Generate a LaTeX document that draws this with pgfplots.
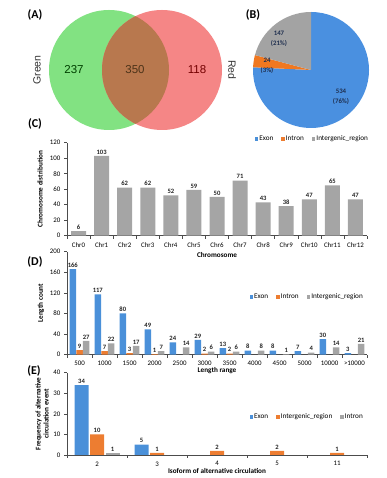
\documentclass[border=0pt]{standalone}
\usepackage{fontspec}
\setmainfont{Carlito}
\newfontfamily\arialfont{Liberation Sans}
\usepackage{pgfplots}
\pgfplotsset{compat=1.18}
\definecolor{exon}{HTML}{4A90D9}
\definecolor{intron}{HTML}{ED7D31}
\definecolor{inter}{HTML}{A5A5A5}
\definecolor{vgreen}{HTML}{82E282}
\definecolor{vred}{HTML}{F58686}
\definecolor{vover}{HTML}{B8784E}
\definecolor{pieblue}{HTML}{4A90E0}
\definecolor{pieorange}{HTML}{F07820}
\definecolor{piegray}{HTML}{A3A3A3}
\definecolor{pielab}{HTML}{1F2F4F}
\pgfplotsset{
  sqlegend/.style={legend image code/.code={\fill[##1] (0pt,-1.8pt) rectangle (3.6pt,1.8pt);}},
  ybar legend/.style={legend image code/.code={\fill[##1] (0pt,-1.8pt) rectangle (3.6pt,1.8pt);}},
  excel/.style={
    /pgf/number format/assume math mode=true,
    scale only axis, width=300pt,
    axis lines*=left,
    axis line style={-, black!70, line width=0.6pt},
    tick align=outside,
    major tick length=3pt, minor tick length=3pt,
    tick style={black!70, line width=0.5pt},
    every major x tick/.append style={draw=none},
    ymin=0,
    tick label style={font=\fontsize{6.9}{7}\selectfont},
    label style={font=\bfseries\fontsize{7.2}{8}\selectfont},
    ylabel style={anchor=center},
    xlabel style={anchor=center},
    nodes near coords style={font=\bfseries\fontsize{6.6}{7}\selectfont, inner sep=1.5pt, text=black!85},
    legend style={draw=none, fill=none, font=\fontsize{7.2}{8}\selectfont,
      legend columns=3, /tikz/every even column/.append style={column sep=7pt},
      nodes={inner sep=1pt}},
    sqlegend,
  }
}
\begin{document}
\begin{tikzpicture}
\path[use as bounding box] (0,0) rectangle (387pt,478pt);
% ---------- (A) Venn ----------
\fill[vgreen] (109pt,408pt) circle (60pt);
\fill[vred] (162pt,408pt) circle (60pt);
\begin{scope}
\clip (109pt,408pt) circle (60pt);
\fill[vover] (162pt,408pt) circle (60pt);
\end{scope}
\node[font=\arialfont\fontsize{11.5}{12}\selectfont, text=green!25!black] at (74pt,408pt) {237};
\node[font=\arialfont\fontsize{11.5}{12}\selectfont, text=brown!40!black] at (135pt,408pt) {350};
\node[font=\arialfont\fontsize{11.5}{12}\selectfont, text=red!45!black] at (197pt,408pt) {118};
\node[font=\arialfont\fontsize{10.5}{12}\selectfont, text=black!80, rotate=90] at (37pt,408pt) {Green};
\node[font=\arialfont\fontsize{10.5}{12}\selectfont, text=black!80, rotate=-90] at (232pt,408pt) {Red};
% ---------- (B) Pie ----------
\pgfmathsetmacro\tot{534+24+147}
\pgfmathsetmacro\aA{90-534/\tot*360}
\pgfmathsetmacro\aB{\aA-24/\tot*360}
\fill[pieblue] (311pt,408pt) -- ++(90:58pt) arc[start angle=90, end angle=\aA, radius=58pt] -- cycle;
\fill[pieorange] (311pt,408pt) -- ++(\aA:58pt) arc[start angle=\aA, end angle=\aB, radius=58pt] -- cycle;
\fill[piegray] (311pt,408pt) -- ++(\aB:58pt) arc[start angle=\aB, end angle=-270, radius=58pt] -- cycle;
\node[font=\bfseries\fontsize{6.8}{10.5}\selectfont, text=pielab, align=center] at (279pt,439pt) {147\\(21\%)};
\node[font=\bfseries\fontsize{6.8}{10.5}\selectfont, text=pielab, align=center] at (267pt,412pt) {24\\(3\%)};
\node[font=\bfseries\fontsize{6.8}{10.5}\selectfont, text=pielab, align=center] at (341pt,381pt) {534\\(76\%)};
% ---------- panel letters ----------
\node[font=\bfseries\fontsize{12}{14}\selectfont] at (35pt,463pt) {(A)};
\node[font=\bfseries\fontsize{12}{14}\selectfont] at (253pt,463pt) {(B)};
\node[font=\bfseries\fontsize{12}{14}\selectfont] at (35pt,354pt) {(C)};
\node[font=\bfseries\fontsize{12}{14}\selectfont] at (35pt,216pt) {(D)};
\node[font=\bfseries\fontsize{12}{14}\selectfont] at (34pt,107pt) {(E)};
% ---------- (C) ----------
\begin{axis}[excel, at={(67pt,242.3pt)}, anchor=south west, height=93pt,
  xmin=-0.5, xmax=12.5, ymax=120, ytick={0,20,...,120},
  xtick={0,...,12},
  xticklabels={Chr0,Chr1,Chr2,Chr3,Chr4,Chr5,Chr6,Chr7,Chr8,Chr9,Chr10,Chr11,Chr12},
  minor xtick={-0.5,0.5,...,12.5},
  xlabel={Chromosome}, ylabel={Chromosome distribution},
  xlabel style={at={(axis description cs:0.5,-0.2075)}},
  ylabel style={at={(axis description cs:-0.09,0.5)}},
  legend style={at={(1.017,1.04)}, anchor=east},
  ybar, bar width=15pt]
\addlegendimage{fill=exon, draw=none, sqlegend}
\addlegendentry{Exon}
\addlegendimage{fill=intron, draw=none, sqlegend}
\addlegendentry{Intron}
\addplot[fill=inter, draw=none, bar shift=0pt, nodes near coords, sqlegend] coordinates {
 (0,6) (1,103) (2,62) (3,62) (4,52) (5,59) (6,50) (7,71) (8,43) (9,38) (10,47) (11,65) (12,47)};
\addlegendentry{Intergenic\_region}
\end{axis}
% ---------- (D) ----------
\begin{axis}[excel, at={(67pt,123.3pt)}, anchor=south west, height=103pt,
  xmin=-0.5, xmax=11.5, ymax=200, ytick={0,40,...,200},
  xtick={0,...,11},
  xticklabels={500,1000,1500,2000,2500,3000,3500,4000,4500,5000,10000,>10000},
  minor xtick={-0.5,0.5,...,11.5},
  xlabel={Length range}, ylabel={Length count},
  xlabel style={at={(axis description cs:0.5,-0.158)}},
  ylabel style={at={(axis description cs:-0.087,0.5)}},
  legend style={at={(1.0,0.56)}, anchor=east},
  ybar=0.2pt, bar width=6.5pt, nodes near coords]
\addplot[fill=exon, draw=none, sqlegend] coordinates {
 (0,166) (1,117) (2,80) (3,49) (4,24) (5,29) (6,13) (7,8) (8,8) (9,7) (10,30) (11,3)};
\addlegendentry{Exon}
\addplot[fill=intron, draw=none, sqlegend] coordinates {
 (0,9) (1,7) (2,3) (3,1) (5,2) (6,2)};
\addlegendentry{Intron}
\addplot[fill=inter, draw=none, sqlegend] coordinates {
 (0,27) (1,22) (2,17) (3,7) (4,14) (5,6) (6,6) (7,8) (8,1) (9,4) (10,14) (11,21)};
\addlegendentry{Intergenic\_region}
\end{axis}
% ---------- (E) ----------
\begin{axis}[excel, at={(67pt,23pt)}, anchor=south west, height=82.3pt,
  xmin=-0.5, xmax=4.5, ymax=40, ytick={0,10,...,40},
  xtick={0,...,4},
  xticklabels={2,3,4,5,11},
  minor xtick={-0.5,0.5,...,4.5},
  xlabel={Isoform of alternative circulation},
  ylabel={Frequency of alternative\\circulation event},
  xlabel style={at={(axis description cs:0.5,-0.19)}},
  ylabel style={at={(axis description cs:-0.083,0.5)}, align=center},
  legend style={at={(1.0,0.465)}, anchor=east},
  ybar=1.5pt, bar width=14pt, nodes near coords]
\addplot[fill=exon, draw=none, sqlegend] coordinates {(0,34) (1,5)};
\addlegendentry{Exon}
\addplot[fill=intron, draw=none, sqlegend] coordinates {(0,10) (1,1) (2,2) (3,2) (4,1)};
\addlegendentry{Intergenic\_region}
\addplot[fill=inter, draw=none, sqlegend] coordinates {(0,1)};
\addlegendentry{Intron}
\end{axis}
\end{tikzpicture}
\end{document}
